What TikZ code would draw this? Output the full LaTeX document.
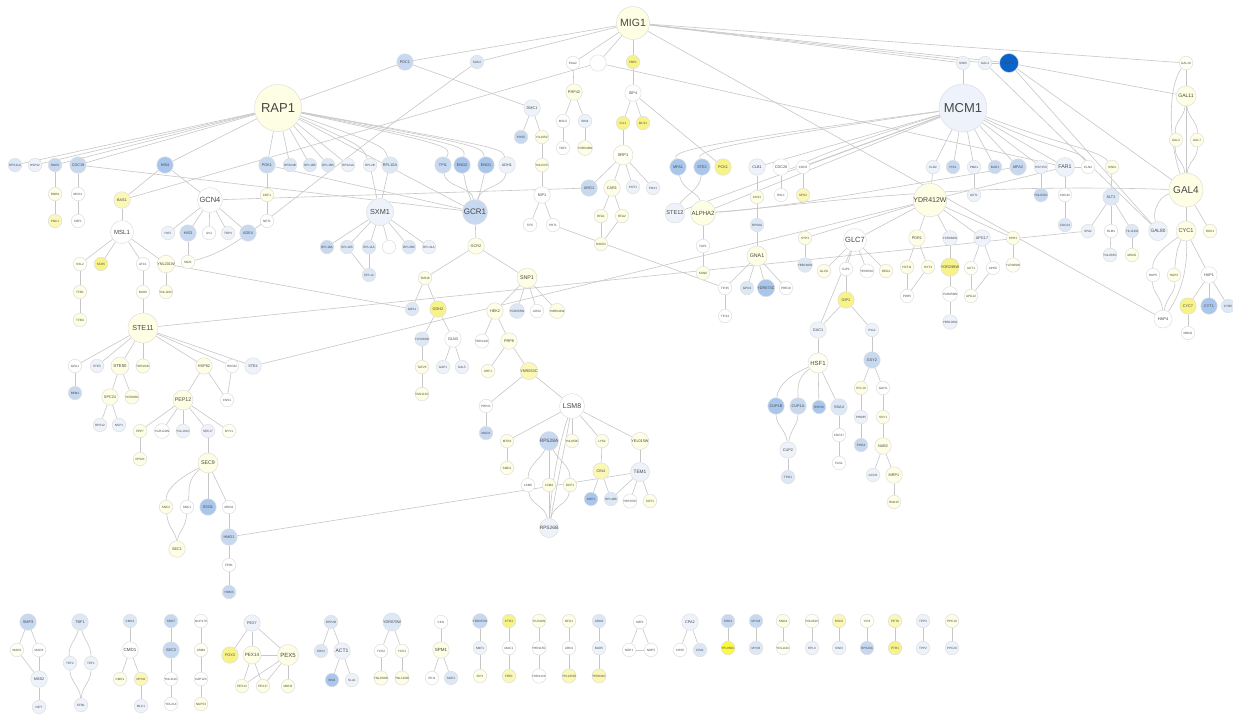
\documentclass[tikz,border=0pt]{standalone}
\usepackage{fontspec}
\setmainfont{Liberation Sans}
\begin{document}
\pgfdeclarelayer{bg}\pgfsetlayers{bg,main}
\definecolor{cPY}{HTML}{FEFEE4}
\definecolor{cP0}{HTML}{FFFFF3}
\definecolor{cY1}{HTML}{FBF8B6}
\definecolor{cY2}{HTML}{F8F388}
\definecolor{cY3}{HTML}{FBF940}
\definecolor{cB0}{HTML}{EEF3FB}
\definecolor{cB1}{HTML}{DDE8F7}
\definecolor{cB2}{HTML}{C6D9F1}
\definecolor{cB3}{HTML}{A9C6EC}
\definecolor{cBD}{HTML}{0A63C9}
\tikzset{
 nb/.style={circle, draw=black!13, line width=0.5pt, inner sep=0pt, text=black!72},
 t/.style={nb, minimum size=13.5pt, font=\fontsize{3.1}{3.3}\selectfont},
 s/.style={nb, minimum size=16.5pt, font=\fontsize{3.8}{4}\selectfont},
 m/.style={nb, minimum size=20pt, font=\fontsize{5.3}{5.5}\selectfont},
 l/.style={nb, minimum size=24pt, font=\fontsize{7.3}{7.5}\selectfont},
 W/.style={fill=white}, PY/.style={fill=cPY}, P0/.style={fill=cP0},
 Y1/.style={fill=cY1}, Y2/.style={fill=cY2}, Y3/.style={fill=cY3},
 B0/.style={fill=cB0}, B1/.style={fill=cB1}, B2/.style={fill=cB2}, B3/.style={fill=cB3},
 BD/.style={fill=cBD},
 e/.style={draw=black!22, line width=0.6pt}
}
\begin{tikzpicture}[x=1pt,y=-1pt]
\useasboundingbox (0,0) rectangle (1233,713);
% hubs
\node[nb,PY,minimum size=33pt,font=\fontsize{10.5}{11}\selectfont] (MIG1) at (633,23) {MIG1};
\node[nb,PY,minimum size=47pt,font=\fontsize{13}{13}\selectfont] (RAP1) at (278,108) {RAP1};
\node[nb,B0,minimum size=48pt,font=\fontsize{13}{13}\selectfont] (MCM1) at (963,108) {MCM1};
\node[nb,PY,minimum size=34pt,font=\fontsize{10}{10}\selectfont] (GAL4) at (1186,190) {GAL4};
% top row
\node[s,B2] (PDC1) at (405,62) {PDC1};
\node[t,B1] (SUC2) at (477,62) {SUC2};
\node[t,W] (PAU2) at (573,63) {PAU2};
\node[s,W] (blankA) at (598,63) {};
\node[t,Y2] (FBP1) at (633,62) {FBP1};
\node[t,B0] (SWI5) at (963,63) {SWI5};
\node[t,B0] (GAL3) at (985,63) {GAL3};
\node[nb,BD,minimum size=19pt,font=\fontsize{3.8}{4}\selectfont] (GAL1) at (1009,63) {GAL1};
\node[t,P0] (GAL10) at (1186,63) {GAL10};
% MIG1 side
\node[s,PY] (PRP42) at (574,92) {PRP42};
\node[s,W] (SIP4) at (633,93) {SIP4};
\node[t,W] (MSL5) at (563,121) {MSL5};
\node[t,B0] (BIN4) at (585,121) {BIN4};
\node[t,W] (TOF1) at (563,148) {TOF1};
\node[t,PY] (YOR049W) at (585,148) {YOR049W};
\node[s,B0] (DMC1) at (532,108) {DMC1};
\node[t,B2] (PDS5) at (521,137) {PDS5};
\node[t,PY] (YIL105C) at (542,137) {YIL105C};
\node[t,PY] (YNL037C) at (542,165) {YNL037C};
\node[s,W] (NIP1) at (542,195) {NIP1};
\node[t,W] (TIF5) at (530,225) {TIF5};
\node[t,W] (PRT1) at (553,225) {PRT1};
\node[t,Y2] (ICL1) at (623,123) {ICL1};
\node[t,Y2] (MLS1) at (643,123) {MLS1};
\node[m,P0,font=\fontsize{4}{4}\selectfont] (SRP1) at (623,155) {SRP1};
\node[s,B2] (ARG1) at (589,188) {ARG1};
\node[s,PY] (CAR1) at (612,188) {CAR1};
\node[t,B0] (POT1) at (633,187) {POT1};
\node[t,B0] (POX1) at (653,188) {POX1};
\node[t,PY] (RFA1) at (601,216) {RFA1};
\node[t,PY] (RFA2) at (622,216) {RFA2};
\node[t,PY] (RAD52) at (601,244) {RAD52};
% RAP1 row
\node[t,B1] (RPS11A) at (15,165) {RPS11A};
\node[t,B0] (HSP42) at (35,165) {HSP42};
\node[t,B2] (RNR3) at (55,165) {RNR3};
\node[s,B2] (CDC19) at (78,165) {CDC19};
\node[s,B3] (HIS4) at (165,165) {HIS4};
\node[s,B2] (PGK1) at (267,165) {PGK1};
\node[t,B1] (RPS24B) at (290,165) {RPS24B};
\node[t,B1] (RPL16B) at (310,165) {RPL16B};
\node[t,B1] (RPL18B) at (328,165) {RPL18B};
\node[t,B0] (RPS24A) at (348,165) {RPS24A};
\node[t,B0] (RPL2B) at (370,165) {RPL2B};
\node[s,B1] (RPL10A) at (390,165) {RPL10A};
\node[s,B2] (TPI1) at (443,165) {TPI1};
\node[s,B3] (ENO2) at (462,165) {ENO2};
\node[s,B3] (ENO1) at (486,165) {ENO1};
\node[s,B0] (ADH1) at (507,165) {ADH1};
\node[t,PY] (RNR4) at (55,194) {RNR4};
\node[t,Y1] (PNC1) at (55,221) {PNC1};
\node[t,W] (MCK1) at (78,194) {MCK1};
\node[t,W] (CBF1) at (78,221) {CBF1};
\node[s,Y1] (BAS1) at (122,200) {BAS1};
\node[nb,W,minimum size=25pt,font=\fontsize{7.5}{7.5}\selectfont] (GCN4) at (210,200) {GCN4};
\node[t,PY] (CRF1) at (267,195) {CRF1};
\node[t,W] (NET1) at (267,221) {NET1};
\node[nb,W,minimum size=23pt,font=\fontsize{6}{6}\selectfont] (MSL1) at (122,232) {MSL1};
\node[t,B0] (HIS7) at (168,233) {HIS7};
\node[s,B2] (HIS3) at (188,233) {HIS3};
\node[t,W] (ILV1) at (209,233) {ILV1};
\node[t,B0] (TRP4) at (228,233) {TRP4};
\node[s,B2] (ADE4) at (248,233) {ADE4};
\node[nb,B0,minimum size=27pt,font=\fontsize{7.3}{7.3}\selectfont] (SXM1) at (380,212) {SXM1};
\node[nb,B2,minimum size=25pt,font=\fontsize{8}{8}\selectfont] (GCR1) at (475,212) {GCR1};
\node[t,B2] (RPL18A) at (327,247) {RPL18A};
\node[t,B1] (RPL11B) at (347,247) {RPL11B};
\node[t,B1] (RPL11A) at (369,247) {RPL11A};
\node[t,W] (blankB) at (389,247) {};
\node[t,B1] (RPL26B) at (409,247) {RPL26B};
\node[t,B0] (RPL31A) at (429,247) {RPL31A};
\node[t,B1] (RPL12) at (369,275) {RPL12};
\node[s,PY] (GCR2) at (476,246) {GCR2};
% left
\node[t,P0] (SSL2) at (80,264) {SSL2};
\node[t,Y2] (SCD5) at (101,264) {SCD5};
\node[t,W] (ATC1) at (143,264) {ATC1};
\node[s,PY] (YNL201W) at (166,264) {YNL201W};
\node[t,P0] (SNZ1) at (188,262) {SNZ1};
\node[t,PY] (TFB1) at (80,292) {TFB1};
\node[t,PY] (TFB4) at (80,320) {TFB4};
\node[t,P0] (BUD6) at (143,292) {BUD6};
\node[t,PY] (YNL110C) at (166,292) {YNL110C};
\node[nb,PY,minimum size=30pt,font=\fontsize{7.2}{7.2}\selectfont] (STE11) at (143,328) {STE11};
\node[t,W] (GPA1) at (75,366) {GPA1};
\node[t,B0] (STE5) at (97,366) {STE5};
\node[nb,PY,minimum size=18pt,font=\fontsize{4.3}{4.3}\selectfont] (STE50) at (120,366) {STE50};
\node[t,PY] (YDR104C) at (143,366) {YDR104C};
\node[s,PY] (HSP82) at (204,366) {HSP82};
\node[t,W] (HSC82) at (232,366) {HSC82};
\node[s,B0] (STE4) at (253,366) {STE4};
\node[t,B2] (BEM1) at (75,393) {BEM1};
\node[s,PY] (SPC24) at (110,397) {SPC24};
\node[t,PY] (YCR086C) at (132,397) {YCR086C};
\node[t,B0] (RPS12) at (100,425) {RPS12};
\node[t,B0] (NSP1) at (119,425) {NSP1};
\node[m,PY] (PEP12) at (183,400) {PEP12};
\node[t,W] (CNS1) at (227,400) {CNS1};
\node[t,PY] (PEP7) at (140,431) {PEP7};
\node[t,W] (YGR122W) at (162,431) {YGR122W};
\node[t,B0] (YGL161C) at (183,431) {YGL161C};
\node[t,B0] (SEC17) at (208,431) {SEC17};
\node[t,P0] (NYV1) at (229,431) {NYV1};
\node[t,PY] (VPS21) at (140,459) {VPS21};
\node[m,PY] (SEC9) at (208,463) {SEC9};
\node[t,PY] (SNC2) at (166,507) {SNC2};
\node[t,W] (SNC1) at (187,507) {SNC1};
\node[s,B3] (SSO1) at (208,507) {SSO1};
\node[t,W] (MSO1) at (229,507) {MSO1};
\node[s,PY] (SEC1) at (177,549) {SEC1};
\node[s,B2] (HMO1) at (229,537) {HMO1};
\node[t,W] (FPR1) at (229,565) {FPR1};
\node[t,B2] (HOM3) at (229,592) {HOM3};
% right cluster
\node[s,B3] (MFA1) at (678,167) {MFA1};
\node[s,B3] (STE2) at (702,167) {STE2};
\node[s,Y2] (PCK1) at (723,167) {PCK1};
\node[s,B0] (CLB1) at (757,167) {CLB1};
\node[s,W] (CDC20) at (781,167) {CDC20};
\node[t,W] (CDC6) at (803,167) {CDC6};
\node[t,W] (HSL1) at (781,195) {HSL1};
\node[t,Y1] (SPS2) at (803,195) {SPS2};
\node[t,PY] (CKS1) at (757,197) {CKS1};
\node[t,B1] (RPS8A) at (757,225) {RPS8A};
\node[nb,B0,minimum size=20pt,font=\fontsize{5.6}{5.6}\selectfont] (STE12) at (675,213) {STE12};
\node[nb,PY,minimum size=25pt,font=\fontsize{6}{6}\selectfont] (ALPHA2) at (703,213) {ALPHA2};
\node[t,B0] (CLB2) at (933,167) {CLB2};
\node[t,B2] (PIS1) at (953,167) {PIS1};
\node[t,B0] (PMA1) at (974,167) {PMA1};
\node[t,B2] (BAR1) at (995,167) {BAR1};
\node[s,B2] (MFA2) at (1018,167) {MFA2};
\node[t,B0] (HSP150) at (1041,167) {HSP150};
\node[nb,B0,minimum size=19pt,font=\fontsize{5.3}{5.3}\selectfont] (FAR1) at (1065,167) {FAR1};
\node[t,W] (CLN2) at (1088,167) {CLN2};
\node[t,PY] (SWI4) at (1112,167) {SWI4};
\node[t,B0] (AST1) at (974,195) {AST1};
\node[t,B2] (YGL032C) at (1041,195) {YGL032C};
\node[t,W] (CDC42) at (1065,195) {CDC42};
\node[t,B1] (CDC24) at (1065,225) {CDC24};
\node[s,B1] (SLT2) at (1111,197) {SLT2};
\node[t,B0] (SPA2) at (1088,231) {SPA2};
\node[t,W] (RLM1) at (1111,231) {RLM1};
\node[t,B1] (YIL113W) at (1132,231) {YIL113W};
\node[nb,B0,minimum size=19pt,font=\fontsize{4.8}{4.8}\selectfont] (GAL80) at (1158,231) {GAL80};
\node[nb,PY,minimum size=20pt,font=\fontsize{5.6}{5.6}\selectfont] (CYC1) at (1186,231) {CYC1};
\node[t,PY] (ROX1) at (1210,231) {ROX1};
\node[nb,PY,minimum size=20pt,font=\fontsize{5}{5}\selectfont] (GAL11) at (1186,96) {GAL11};
\node[t,PY] (GAL2) at (1176,140) {GAL2};
\node[t,PY] (GAL7) at (1197,140) {GAL7};
\node[nb,PY,minimum size=25pt,font=\fontsize{7}{7}\selectfont] (YDR412W) at (930,200) {YDR412W};
\node[t,PY] (SYP3) at (805,238) {SYP3};
\node[nb,W,minimum size=23pt,font=\fontsize{7.5}{7.5}\selectfont] (GLC7) at (855,240) {GLC7};
\node[s,PY] (PDR1) at (917,238) {PDR1};
\node[t,B0] (YCR086W) at (950,238) {YCR086W};
\node[s,B0] (APG17) at (982,238) {APG17};
\node[t,PY] (SPH1) at (1013,238) {SPH1};
\node[t,W] (TUP1) at (703,246) {TUP1};
\node[m,PY] (GNA1) at (757,256) {GNA1};
\node[t,PY] (SSN6) at (703,273) {SSN6};
\node[t,W] (TIF35) at (725,288) {TIF35};
\node[t,W] (TIF34) at (725,316) {TIF34};
\node[t,B1] (GPD2) at (747,288) {GPD2};
\node[s,B3] (YDR073C) at (766,288) {YDR073C};
\node[t,W] (PRE10) at (786,288) {PRE10};
\node[t,B1] (YBR160W) at (805,265) {YBR160W};
\node[t,PY] (GLC8) at (824,271) {GLC8};
\node[t,W] (GIP2) at (846,269) {GIP2};
\node[t,W] (YER054C) at (867,271) {YER054C};
\node[t,PY] (REG2) at (886,271) {REG2};
\node[t,PY] (HXT11) at (907,267) {HXT11};
\node[t,PY] (HXT3) at (928,267) {HXT3};
\node[t,W] (PDR5) at (907,296) {PDR5};
\node[s,Y2] (YOR298W) at (950,267) {YOR298W};
\node[t,W] (YGR058W) at (950,294) {YGR058W};
\node[t,B0] (YBR130W) at (950,322) {YBR130W};
\node[t,P0] (AUT1) at (971,268) {AUT1};
\node[t,W] (APG5) at (993,268) {APG5};
\node[t,P0] (APG12) at (971,296) {APG12};
\node[t,P0] (YLR389W) at (1013,265) {YLR389W};
\node[t,B0] (YGL065C) at (1110,255) {YGL065C};
\node[t,PY] (MSG5) at (1132,255) {MSG5};
\node[t,W] (HAP5) at (1153,275) {HAP5};
\node[t,PY] (HAP3) at (1174,275) {HAP3};
\node[s,W] (HAP1) at (1209,275) {HAP1};
\node[nb,W,minimum size=18pt,font=\fontsize{4}{4}\selectfont] (HAP4) at (1163,319) {HAP4};
\node[s,Y2] (CYC7) at (1188,306) {CYC7};
\node[s,B3] (CYT1) at (1209,306) {CYT1};
\node[t,B1] (CYB5) at (1228,306) {CYB5};
\node[t,W] (MNN2) at (1188,333) {MNN2};
\node[s,Y2] (GIP1) at (846,300) {GIP1};
\node[s,B0] (GAC1) at (818,330) {GAC1};
\node[t,B0] (PIG2) at (872,330) {PIG2};
\node[s,B2] (GSY2) at (872,360) {GSY2};
\node[m,P0,font=\fontsize{6}{6}\selectfont] (HSF1) at (818,363) {HSF1};
\node[t,PY] (PCL10) at (861,388) {PCL10};
\node[t,W] (GAH1) at (883,388) {GAH1};
\node[t,B0] (PHO85) at (861,417) {PHO85};
\node[t,PY] (SSY1) at (883,417) {SSY1};
\node[t,B2] (PHO4) at (861,445) {PHO4};
\node[s,PY] (NAB2) at (883,446) {NAB2};
\node[s,B3] (CUP1B) at (776,406) {CUP1B};
\node[s,B2] (CUP1A) at (798,406) {CUP1A};
\node[t,B3] (HSP26) at (819,407) {HSP26};
\node[s,B1] (SSA4) at (839,407) {SSA4};
\node[s,B0] (CUP2) at (788,450) {CUP2};
\node[t,W] (CDC37) at (839,435) {CDC37};
\node[t,W] (FAS1) at (839,463) {FAS1};
\node[t,B1] (TPO1) at (788,477) {TPO1};
\node[t,B0] (GCN3) at (873,475) {GCN3};
\node[s,PY] (MRP1) at (894,475) {MRP1};
\node[t,PY] (RNA15) at (894,502) {RNA15};
% middle
\node[t,PY] (TAH18) at (425,278) {TAH18};
\node[m,PY] (SNP1) at (527,278) {SNP1};
\node[t,B1] (GDS1) at (412,309) {GDS1};
\node[s,Y2] (GDH2) at (438,309) {GDH2};
\node[s,PY] (HEK2) at (495,311) {HEK2};
\node[t,B1] (YGR055W) at (517,311) {YGR055W};
\node[t,W] (ADS2) at (537,311) {ADS2};
\node[t,PY] (YMR044W) at (557,311) {YMR044W};
\node[t,B1] (YLR320W) at (422,339) {YLR320W};
\node[s,W] (GLN3) at (453,339) {GLN3};
\node[t,W] (YDR144C) at (482,341) {YDR144C};
\node[s,PY] (PRP8) at (509,341) {PRP8};
\node[t,PY] (TAF25) at (422,367) {TAF25};
\node[t,B0] (GAP1) at (443,367) {GAP1};
\node[t,B0] (DAL5) at (462,367) {DAL5};
\node[t,PY] (YML113C) at (422,394) {YML113C};
\node[t,PY] (URF1) at (488,371) {URF1};
\node[s,Y1] (YNR053C) at (529,371) {YNR053C};
\node[t,W] (PRP21) at (486,406) {PRP21};
\node[nb,W,minimum size=25pt,font=\fontsize{7}{7}\selectfont] (LSM8) at (572,406) {LSM8};
\node[t,B2] (MUD2) at (486,433) {MUD2};
\node[t,PY] (MTR4) at (507,441) {MTR4};
\node[nb,B2,minimum size=19pt,font=\fontsize{4.8}{4.8}\selectfont] (RPS28A) at (549,441) {RPS28A};
\node[t,PY] (YNL050C) at (572,441) {YNL050C};
\node[t,PY] (LYS2) at (602,441) {LYS2};
\node[s,PY] (YEL015W) at (640,441) {YEL015W};
\node[t,PY] (SMD1) at (507,468) {SMD1};
\node[t,W] (LSM5) at (528,485) {LSM5};
\node[t,PY] (LSM4) at (549,485) {LSM4};
\node[t,PY] (DCP1) at (570,485) {DCP1};
\node[s,Y1] (CIN4) at (601,471) {CIN4};
\node[t,B3] (AHP1) at (591,499) {AHP1};
\node[t,B1] (RPL40B) at (611,499) {RPL40B};
\node[nb,B0,minimum size=19pt,font=\fontsize{4.8}{4.8}\selectfont] (RPS26B) at (549,528) {RPS26B};
\node[nb,B0,minimum size=19pt,font=\fontsize{4.8}{4.8}\selectfont] (TEM1) at (640,472) {TEM1};
\node[t,W] (YHR155C) at (630,501) {YHR155C};
\node[t,PY] (SOT1) at (650,501) {SOT1};
% bottom components
\node[s,B2] (SMP3) at (28,622) {SMP3};
\node[t,P0] (MAD2) at (17,650) {MAD2};
\node[t,W] (MAD3) at (39,650) {MAD3};
\node[s,B0] (MSB2) at (39,679) {MSB2};
\node[t,B0] (NIP7) at (39,707) {NIP7};
\node[s,B1] (TBF1) at (80,622) {TBF1};
\node[t,B0] (TEF2) at (70,663) {TEF2};
\node[t,B0] (TEF1) at (91,663) {TEF1};
\node[t,B0] (EFB1) at (81,705) {EFB1};
\node[t,B1] (CMK2) at (130,621) {CMK2};
\node[s,W,font=\fontsize{4.5}{4.5}\selectfont] (CMD1) at (130,650) {CMD1};
\node[t,PY] (CMK1) at (120,679) {CMK1};
\node[t,Y1] (MYO2) at (141,679) {MYO2};
\node[t,B0] (MLC1) at (141,706) {MLC1};
\node[t,B2] (SRO7) at (171,621) {SRO7};
\node[s,B2] (SEC3) at (171,650) {SEC3};
\node[t,W] (YNL311C) at (171,679) {YNL311C};
\node[t,W] (YDL214) at (171,704) {YDL214};
\node[t,W] (NUP170) at (201,621) {NUP170};
\node[t,P0] (ASM4) at (201,650) {ASM4};
\node[t,W] (KAP123) at (201,679) {KAP123};
\node[t,PY] (NUP53) at (201,704) {NUP53};
\node[s,B0] (PEX7) at (252,623) {PEX7};
\node[s,Y2] (FOX3) at (230,655) {FOX3};
\node[nb,PY,minimum size=18pt,font=\fontsize{4.6}{4.6}\selectfont] (PEX14) at (252,655) {PEX14};
\node[nb,PY,minimum size=21pt,font=\fontsize{6}{6}\selectfont] (PEX5) at (288,655) {PEX5};
\node[t,PY] (PEX13) at (242,686) {PEX13};
\node[t,PY] (PEX17) at (263,686) {PEX17};
\node[t,PY] (MDH3) at (288,686) {MDH3};
\node[t,B1] (RPP2B) at (331,622) {RPP2B};
\node[t,B1] (SRV2) at (321,651) {SRV2};
\node[s,B0,font=\fontsize{5}{5}\selectfont] (ACT1) at (342,651) {ACT1};
\node[t,B3] (BNI1) at (332,680) {BNI1};
\node[t,B0] (SLA1) at (352,680) {SLA1};
\node[s,B1] (YDR070W) at (392,622) {YDR070W};
\node[t,W] (YCK2) at (381,651) {YCK2};
\node[t,P0] (YCK1) at (402,651) {YCK1};
\node[t,PY] (YNL258W) at (381,678) {YNL258W};
\node[t,PY] (YNL116W) at (402,678) {YNL116W};
\node[t,W] (CKI1) at (441,622) {CKI1};
\node[s,PY,font=\fontsize{4.5}{4.5}\selectfont] (SPM1) at (441,650) {SPM1};
\node[t,W] (EKI1) at (432,678) {EKI1};
\node[t,B1] (SGE1) at (451,678) {SGE1};
\node[t,B2] (YDR357W) at (480,621) {YDR357W};
\node[t,B0] (SMF1) at (480,648) {SMF1};
\node[t,PY] (SIP1) at (480,676) {SIP1};
\node[t,Y2] (CTR1) at (509,621) {CTR1};
\node[t,W] (MAC1) at (509,648) {MAC1};
\node[t,Y1] (FRE1) at (509,676) {FRE1};
\node[t,PY] (YIL041W) at (539,621) {YIL041W};
\node[t,W] (YHR115C) at (539,648) {YHR115C};
\node[t,W] (YOR412C) at (539,676) {YOR412C};
\node[t,PY] (NFU1) at (569,621) {NFU1};
\node[t,W] (URD1) at (569,648) {URD1};
\node[t,Y1] (YPL225W) at (569,676) {YPL225W};
\node[t,B1] (ARO8) at (599,621) {ARO8};
\node[t,B0] (BUD5) at (599,648) {BUD5};
\node[t,Y1] (YER034C) at (599,676) {YER034C};
\node[t,W] (SRF1) at (640,622) {SRF1};
\node[t,W] (NOP1) at (629,650) {NOP1};
\node[t,W] (NOP5) at (651,650) {NOP5};
\node[s,B0] (CPA2) at (690,622) {CPA2};
\node[t,W] (CHS5) at (680,650) {CHS5};
\node[t,B1] (CPA1) at (700,650) {CPA1};
\node[t,B2] (SHO1) at (728,621) {SHO1};
\node[t,Y3] (YPL050C) at (728,648) {YPL050C};
\node[t,B2] (MYO4) at (756,621) {MYO4};
\node[t,B1] (MYO3) at (756,648) {MYO3};
\node[t,PY] (SNO4) at (783,621) {SNO4};
\node[t,P0] (YOL112C) at (783,648) {YOL112C};
\node[t,P0] (YOL062C) at (812,621) {YOL062C};
\node[t,B0] (RPL3) at (812,648) {RPL3};
\node[t,Y1] (RSC8) at (839,621) {RSC8};
\node[t,B0] (SWI3) at (839,648) {SWI3};
\node[t,P0] (YIP4) at (867,621) {YIP4};
\node[t,B2] (RPS20A) at (867,648) {RPS20A};
\node[t,Y1] (PET8) at (895,621) {PET8};
\node[t,Y2] (PTR1) at (895,648) {PTR1};
\node[t,B0] (TPP3) at (923,621) {TPP3};
\node[t,B0] (TPP2) at (923,648) {TPP2};
\node[t,PY] (PPC10) at (952,621) {PPC10};
\node[t,B0] (PPC20) at (952,648) {PPC20};
% edges
\begin{pgfonlayer}{bg}
\fill[white] (0,0) rectangle (1233,713);
\foreach \a/\b in {RAP1/RPS11A,RAP1/HSP42,RAP1/RNR3,RAP1/CDC19,RAP1/HIS4,RAP1/PGK1,RAP1/RPS24B,RAP1/RPL16B,RAP1/RPL18B,RAP1/RPS24A,RAP1/PDC1,RAP1/GCR1,
RNR3/RNR4,RNR4/PNC1,CDC19/MCK1,MCK1/CBF1,PGK1/CRF1,CRF1/NET1,
HIS4/GCN4,HIS4/BAS1,BAS1/MSL1,BAS1/blankA,
GCN4/HIS7,GCN4/HIS3,GCN4/ILV1,GCN4/TRP4,GCN4/ADE4,HIS3/SNZ1,GCN4/ARG1,
MSL1/SSL2,MSL1/SCD5,MSL1/ATC1,MSL1/YNL201W,SSL2/TFB1,TFB1/TFB4,ATC1/BUD6,BUD6/STE11,YNL201W/YNL110C,YNL201W/GDS1,
STE11/GPA1,STE11/STE5,STE11/STE50,STE11/YDR104C,STE11/HSP82,STE11/HSC82,STE11/STE4,GPA1/BEM1,STE50/SPC24,STE50/YCR086C,SPC24/RPS12,SPC24/NSP1,HSP82/PEP12,HSP82/CNS1,HSC82/CNS1,
PEP12/PEP7,PEP12/YGR122W,PEP12/YGL161C,PEP12/SEC17,PEP12/NYV1,PEP7/VPS21,SEC17/SEC9,
SEC9/SSO1,SEC9/MSO1,MSO1/HMO1,HMO1/FPR1,FPR1/HOM3,HMO1/TEM1,
PDC1/MIG1,SUC2/MIG1,PAU2/MIG1,blankA/MIG1,FBP1/MIG1,PDC1/DMC1,PAU2/PRP42,PRP42/MSL5,PRP42/BIN4,MSL5/TOF1,BIN4/YOR049W,
DMC1/PDS5,DMC1/YIL105C,YIL105C/YNL037C,YNL037C/NIP1,NIP1/TIF5,NIP1/PRT1,
FBP1/SIP4,SIP4/ICL1,SIP4/MLS1,ICL1/SRP1,SIP4/PCK1,SRP1/CAR1,SRP1/POT1,SRP1/POX1,SRP1/ARG1,CAR1/RFA1,CAR1/RFA2,RFA1/RAD52,RFA2/RAD52,
SXM1/RPL18A,SXM1/RPL11B,SXM1/RPL11A,SXM1/blankB,SXM1/RPL26B,SXM1/RPL31A,RPL11A/RPL12,RPL11B/RPL12,
GCR1/GCR2,GCR1/CDC19,GCR1/PGK1,GCR2/TAH18,GCR2/SNP1,TAH18/GDS1,TAH18/GDH2,GDH2/YLR320W,GDH2/GLN3,YLR320W/TAF25,TAF25/YML113C,GLN3/GAP1,GLN3/DAL5,
SNP1/HEK2,SNP1/YGR055W,SNP1/ADS2,SNP1/YMR044W,HEK2/YDR144C,HEK2/PRP8,PRP8/URF1,PRP8/YNR053C,YNR053C/PRP21,YNR053C/LSM8,PRP21/MUD2,
LSM8/MTR4,LSM8/YNL050C,LSM8/LYS2,LSM8/YEL015W,MTR4/SMD1,LYS2/CIN4,CIN4/AHP1,CIN4/RPL40B,YEL015W/TEM1,TEM1/YHR155C,TEM1/SOT1,TEM1/RPL40B,RPS28A/LSM4,
PRT1/TIF35,TIF35/TIF34,GNA1/TIF35,GNA1/GPD2,GNA1/YDR073C,GNA1/PRE10,GNA1/RPS8A,RPS8A/CKS1,CKS1/CLB1,CDC20/HSL1,CDC6/SPS2,
ALPHA2/TUP1,TUP1/SSN6,
SYP3/YBR160W,GLC7/GLC8,GLC7/GIP2,GLC7/YER054C,GLC7/REG2,GIP2/GIP1,GIP1/GAC1,GIP1/PIG2,GLC7/GAC1,PIG2/GSY2,GAC1/HSF1,GSY2/PCL10,GSY2/GAH1,PCL10/PHO85,PHO85/PHO4,GAH1/SSY1,SSY1/NAB2,NAB2/GCN3,NAB2/MRP1,MRP1/RNA15,
HSF1/HSP26,HSF1/SSA4,CUP2/TPO1,SSA4/CDC37,CDC37/FAS1,
YDR412W/GLC7,YDR412W/PDR1,YDR412W/YCR086W,YDR412W/APG17,YDR412W/SPH1,CLB2/YDR412W,YDR412W/SYP3,PDR1/HXT11,PDR1/HXT3,HXT11/PDR5,HXT3/PDR5,YCR086W/YOR298W,YOR298W/YGR058W,YGR058W/YBR130W,APG17/AUT1,APG17/APG5,AUT1/APG12,APG5/APG12,SPH1/YLR389W,
MCM1/SWI5,MCM1/CLB2,MCM1/PIS1,MCM1/PMA1,MCM1/BAR1,MCM1/MFA2,MCM1/HSP150,MCM1/FAR1,PMA1/AST1,HSP150/YGL032C,FAR1/CDC42,CDC42/CDC24,FAR1/CLN2,
MCM1/CLB1,MCM1/CDC6,MCM1/STE12,MCM1/ALPHA2,
SWI4/SLT2,SLT2/SPA2,SLT2/RLM1,SLT2/YIL113W,RLM1/YGL065C,YIL113W/MSG5,
GAL3/GAL1,GAL10/GAL11,GAL11/GAL4,GAL4/CYC1,GAL4/ROX1,GAL1/GAL11,GAL1/GAL4,GAL1/GAL80,GAL3/GAL80,
CYC1/HAP1,HAP1/CYC7,HAP1/CYT1,HAP1/CYB5,CYC7/MNN2,
MIG1/GAL10,MIG1/SWI5,MIG1/GAL3,MIG1/GAL1,MIG1/HAP4,
STE4/FAR1,STE11/SPA2,blankA/FAR1,
SMP3/MAD2,SMP3/MAD3,MAD2/MSB2,MAD3/MSB2,MSB2/NIP7,
CMK2/CMD1,CMD1/CMK1,CMD1/MYO2,MYO2/MLC1,SRO7/SEC3,SEC3/YNL311C,YNL311C/YDL214,NUP170/ASM4,ASM4/KAP123,KAP123/NUP53,
PEX7/FOX3,PEX7/PEX14,PEX7/PEX5,PEX14/PEX5,PEX14/PEX13,PEX14/PEX17,PEX5/PEX13,PEX5/PEX17,PEX5/MDH3,
RPP2B/SRV2,RPP2B/ACT1,ACT1/BNI1,ACT1/SLA1,YDR070W/YCK2,YDR070W/YCK1,YCK2/YNL258W,YCK1/YNL116W,CKI1/SPM1,SPM1/EKI1,SPM1/SGE1,
YDR357W/SMF1,SMF1/SIP1,CTR1/MAC1,MAC1/FRE1,YIL041W/YHR115C,YHR115C/YOR412C,NFU1/URD1,URD1/YPL225W,ARO8/BUD5,BUD5/YER034C,
SRF1/NOP1,SRF1/NOP5,NOP1/NOP5,CPA2/CHS5,CPA2/CPA1,SHO1/YPL050C,MYO4/MYO3,SNO4/YOL112C,YOL062C/RPL3,RSC8/SWI3,YIP4/RPS20A,PET8/PTR1,TPP3/TPP2,PPC10/PPC20}
 \draw[e] (\a) -- (\b);
% curved
\draw[e] (RAP1) .. controls (362,146) .. (RPL2B);
\draw[e] (RAP1) .. controls (384,146) .. (RPL10A);
\draw[e] (RAP1) .. controls (452,146) .. (TPI1);
\draw[e] (RAP1) .. controls (466,146) .. (ENO2);
\draw[e] (RAP1) .. controls (482,146) .. (ENO1);
\draw[e] (RAP1) .. controls (502,148) .. (ADH1);
\draw[e] (RPL2B) .. controls (374,186) .. (SXM1);
\draw[e] (RPL10A) .. controls (384,186) .. (SXM1);
\draw[e] (TPI1) .. controls (446,188) and (472,186) .. (GCR1);
\draw[e] (ENO2) .. controls (466,186) .. (GCR1);
\draw[e] (ENO1) .. controls (482,186) .. (GCR1);
\draw[e] (ADH1) .. controls (504,188) and (480,186) .. (GCR1);
\draw[e] (SNZ1) .. controls (245,248) and (270,210) .. (SUC2);
\draw[e] (MFA1) .. controls (674,152) and (680,146) .. (MCM1);
\draw[e] (STE2) .. controls (698,152) and (704,146) .. (MCM1);
\draw[e] (MFA1) .. controls (682,190) and (698,192) .. (ALPHA2);
\draw[e] (STE2) .. controls (700,190) and (684,196) .. (STE12);
\draw[e] (CDC20) .. controls (794,170) and (800,158) .. (MCM1);
\draw[e] (ALPHA2) .. controls (790,208) and (930,180) .. (MFA2);
\draw[e] (ALPHA2) .. controls (800,206) and (940,182) .. (GAL4);
\draw[e] (MCM1) .. controls (1050,150) and (1082,150) .. (CLN2);
\draw[e] (MCM1) .. controls (1060,145) and (1100,150) .. (SWI4);
\draw[e] (GAL11) .. controls (1184,118) and (1174,122) .. (GAL2);
\draw[e] (GAL11) .. controls (1188,118) and (1198,122) .. (GAL7);
\draw[e] (GAL2) .. controls (1174,158) and (1184,162) .. (GAL4);
\draw[e] (GAL7) .. controls (1198,158) and (1188,162) .. (GAL4);
\draw[e] (GAL10) .. controls (1168,85) and (1168,140) .. (GAL4);
\draw[e] (GAL4) .. controls (1160,196) and (1152,210) .. (GAL80);
\draw[e] (CYC1) .. controls (1166,246) and (1152,256) .. (HAP5);
\draw[e] (CYC1) .. controls (1176,250) and (1176,258) .. (HAP3);
\draw[e] (HAP5) .. controls (1152,292) and (1162,298) .. (HAP4);
\draw[e] (HAP3) .. controls (1176,292) and (1166,298) .. (HAP4);
\draw[e] (CYC1) .. controls (1188,270) and (1180,295) .. (HAP4);
\draw[e] (HSF1) .. controls (790,375) and (778,385) .. (CUP1B);
\draw[e] (HSF1) .. controls (796,378) and (798,390) .. (CUP1A);
\draw[e] (CUP1B) .. controls (776,425) and (786,430) .. (CUP2);
\draw[e] (CUP1A) .. controls (798,425) and (790,430) .. (CUP2);
\draw[e] (SEC9) .. controls (180,478) and (166,488) .. (SNC2);
\draw[e] (SEC9) .. controls (186,480) and (190,492) .. (SNC1);
\draw[e] (SNC2) .. controls (168,528) and (176,532) .. (SEC1);
\draw[e] (SNC1) .. controls (186,528) and (178,532) .. (SEC1);
\draw[e] (TBF1) .. controls (76,640) and (68,645) .. (TEF2);
\draw[e] (TBF1) .. controls (84,640) and (91,645) .. (TEF1);
\draw[e] (TEF2) .. controls (70,682) and (80,686) .. (EFB1);
\draw[e] (TEF1) .. controls (91,682) and (82,686) .. (EFB1);
\draw[e] (RPS28A) .. controls (540,460) and (528,465) .. (LSM5);
\draw[e] (RPS28A) .. controls (558,460) and (570,465) .. (DCP1);
\draw[e] (LSM5) .. controls (530,505) and (545,505) .. (RPS26B);
\draw[e] (LSM4) -- (RPS26B);
\draw[e] (DCP1) .. controls (568,505) and (553,505) .. (RPS26B);
\draw[e] (LSM8) .. controls (560,440) and (552,480) .. (RPS26B);
\draw[e] (LSM8) .. controls (566,440) and (556,490) .. (RPS26B);
\end{pgfonlayer}
\end{tikzpicture}
\end{document}
